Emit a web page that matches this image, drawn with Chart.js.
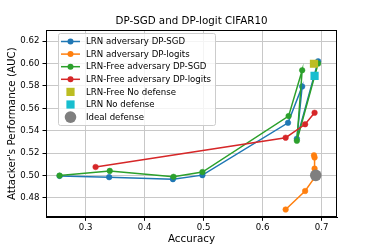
<!DOCTYPE html>
<html>
<head>
<meta charset="utf-8">
<script src="https://cdn.jsdelivr.net/npm/chart.js@4.4.0/dist/chart.umd.min.js"></script>
<style>
  html, body { margin: 0; padding: 0; background: #fff; }
</style>
</head>
<body>
<canvas id="myChart" width="374" height="249"></canvas>
<script>
// tick labels
const xTicks = [0.3, 0.4, 0.5, 0.6, 0.7];
const yTicks = [0.48, 0.50, 0.52, 0.54, 0.56, 0.58, 0.60, 0.62];

// LRN adversary DP-SGD
const lrnSgdAcc = [0.256, 0.340, 0.448, 0.498, 0.643, 0.667, 0.658, 0.694];
const lrnSgdAuc = [0.4995, 0.4984, 0.4966, 0.5002, 0.547, 0.5795, 0.5328, 0.602];

// LRN adversary DP-logits
const lrnLogAcc = [0.639, 0.672, 0.688, 0.688, 0.688, 0.687];
const lrnLogAuc = [0.4695, 0.486, 0.498, 0.506, 0.516, 0.518];

// LRN-Free adversary DP-SGD
const freeSgdAcc = [0.256, 0.341, 0.449, 0.498, 0.644, 0.667, 0.658, 0.694];
const freeSgdAuc = [0.4998, 0.504, 0.4987, 0.503, 0.553, 0.594, 0.531, 0.600];

// LRN-Free adversary DP-logits
const freeLogAcc = [0.317, 0.639, 0.672, 0.688];
const freeLogAuc = [0.5075, 0.5337, 0.5457, 0.556];

// single markers
const freeNoDef = [0.687, 0.5998];
const lrnNoDef = [0.688, 0.589];
const ideal = [0.69, 0.50];

const chartTitle = 'DP-SGD and DP-logit CIFAR10';

function pts(xs, ys) {
    return xs.map((x, i) => ({ x: x, y: ys[i] }));
}

const FONT = 'DejaVu Sans';

function lineSet(label, xs, ys, color, order) {
    return {
        label: label,
        data: pts(xs, ys),
        showLine: true,
        borderColor: color,
        backgroundColor: color,
        borderWidth: 1.5,
        pointRadius: 2.8,
        pointBorderWidth: 0.5,
        pointBackgroundColor: color,
        pointBorderColor: color,
        order: order
    };
}

function markSet(label, p, color, style, r, order) {
    return {
        label: label,
        data: [{ x: p[0], y: p[1] }],
        showLine: false,
        borderColor: color,
        backgroundColor: color,
        pointStyle: style,
        pointRadius: r,
        pointBorderWidth: 0,
        order: order
    };
}

// title, frame and legend drawn inside the plot like matplotlib
const innerLegend = {
    id: 'innerLegend',
    afterDraw(chart) {
        const ctx = chart.ctx;
        const a = chart.chartArea;
        ctx.save();
        // title centred over the axes
        ctx.font = '10.3px "' + FONT + '"';
        ctx.fillStyle = '#000';
        ctx.textAlign = 'center';
        ctx.textBaseline = 'middle';
        ctx.fillText(chartTitle, (a.left + a.right) / 2, 21);

        // frame (all four spines)
        ctx.strokeStyle = '#000';
        ctx.lineWidth = 1;
        ctx.strokeRect(Math.round(a.left) + 0.5, Math.round(a.top) + 0.5,
            Math.round(a.right - a.left) - 1, Math.round(a.bottom - a.top) - 1);

        // legend box
        const bx = 58.5, by = 33.5, bw = 157, bh = 92;
        ctx.beginPath();
        ctx.roundRect(bx, by, bw, bh, 2);
        ctx.fillStyle = 'rgba(255,255,255,0.8)';
        ctx.fill();
        ctx.strokeStyle = '#cccccc';
        ctx.stroke();

        ctx.font = '8.6px "' + FONT + '"';
        ctx.textAlign = 'left';
        ctx.textBaseline = 'middle';
        chart.data.datasets.forEach((ds, i) => {
            const y = 41.5 + i * 12.6;
            const cx = 70.5;
            ctx.fillStyle = ds.backgroundColor;
            ctx.strokeStyle = ds.borderColor;
            if (ds.showLine) {
                ctx.lineWidth = 1.5;
                ctx.beginPath();
                ctx.moveTo(61, y);
                ctx.lineTo(80, y);
                ctx.stroke();
                ctx.beginPath();
                ctx.arc(cx, y, 3, 0, Math.PI * 2);
                ctx.fill();
            } else if (ds.pointStyle === 'rect') {
                const s = ds.pointRadius * Math.SQRT1_2;
                ctx.fillRect(cx - s, y - s, 2 * s, 2 * s);
            } else {
                ctx.beginPath();
                ctx.arc(cx, y, ds.pointRadius, 0, Math.PI * 2);
                ctx.fill();
            }
            ctx.fillStyle = '#000';
            ctx.fillText(ds.label, 86, y + 0.5);
        });
        ctx.restore();
    }
};

const ctx = document.getElementById('myChart').getContext('2d');
const myChart = new Chart(ctx, {
    type: 'scatter',
    data: {
        datasets: [
            lineSet('LRN adversary DP-SGD', lrnSgdAcc, lrnSgdAuc, '#1f77b4', 6),
            lineSet('LRN adversary DP-logits', lrnLogAcc, lrnLogAuc, '#ff7f0e', 5),
            lineSet('LRN-Free adversary DP-SGD', freeSgdAcc, freeSgdAuc, '#2ca02c', 4),
            lineSet('LRN-Free adversary DP-logits', freeLogAcc, freeLogAuc, '#d62728', 3),
            markSet('LRN-Free No defense', freeNoDef, '#bcbd22', 'rect', 5.8, 2),
            markSet('LRN No defense', lrnNoDef, '#17becf', 'rect', 5.8, 1),
            markSet('Ideal defense', ideal, '#7f7f7f', 'circle', 5.8, 0)
        ]
    },
    options: {
        responsive: false,
        animation: false,
        devicePixelRatio: 1,
        layout: { padding: { left: 0, right: 37, top: 30, bottom: 0 } },
        plugins: {
            legend: { display: false },
            tooltip: { enabled: false },
            title: { display: false }
        },
        scales: {
            x: {
                type: 'linear',
                min: 0.233,
                max: 0.726,
                afterBuildTicks: s => { s.ticks = xTicks.map(v => ({ value: v })); },
                afterFit: s => { s.height = 31.7; },
                ticks: {
                    callback: v => v.toFixed(1),
                    color: '#000',
                    font: { family: FONT, size: 8.6 },
                    padding: 1.5,
                    maxRotation: 0
                },
                grid: { color: '#c8c8c8', tickColor: '#000', tickLength: 3.5 },
                border: { color: '#000', width: 1 },
                title: {
                    display: true,
                    text: 'Accuracy',
                    color: '#000',
                    font: { family: FONT, size: 10.3 },
                    padding: { top: 0, bottom: 3.5 }
                }
            },
            y: {
                type: 'linear',
                min: 0.4625,
                max: 0.63,
                afterBuildTicks: s => { s.ticks = yTicks.map(v => ({ value: v })); },
                afterFit: s => { s.width = 46; },
                ticks: {
                    callback: v => v.toFixed(2),
                    color: '#000',
                    font: { family: FONT, size: 8.6 },
                    padding: 3
                },
                grid: { color: '#c8c8c8', tickColor: '#000', tickLength: 3.5 },
                border: { color: '#000', width: 1 },
                title: {
                    display: true,
                    text: "Attacker's Performance (AUC)",
                    color: '#000',
                    font: { family: FONT, size: 10.3 },
                    padding: { top: 6, bottom: 0 }
                }
            }
        }
    },
    plugins: [innerLegend]
});
</script>
</body>
</html>
